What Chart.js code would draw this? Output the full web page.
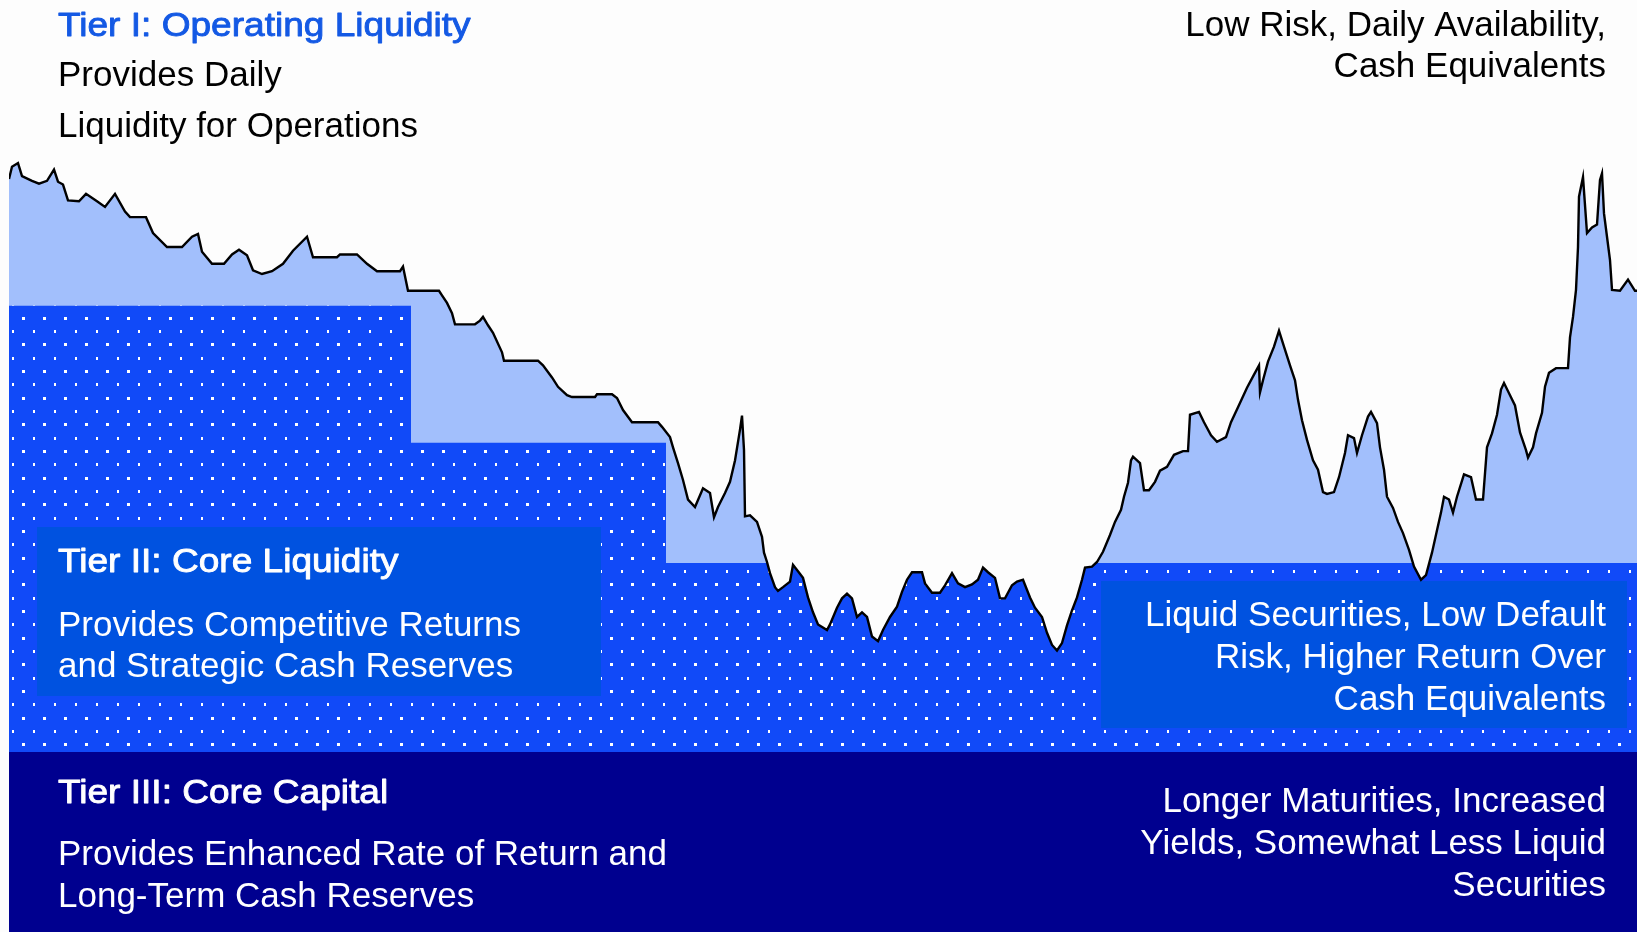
<!DOCTYPE html>
<html>
<head>
<meta charset="utf-8">
<title>Liquidity Tiers</title>
<script src="https://cdn.jsdelivr.net/npm/chart.js@4.4.1/dist/chart.umd.min.js"></script>
<style>
  html, body { margin: 0; padding: 0; background: #fdfdfd; }
  #wrap { position: relative; width: 1637px; height: 932px; }
</style>
</head>
<body>
<div id="wrap"><canvas id="tiersChart"></canvas></div>
<script>
// Cash balance series: day index and balance (relative units, 0-100)
const days = [
  0, 3, 9, 13, 23, 30, 38, 45, 49, 54,
  59, 70, 77, 88, 96, 106, 116, 121, 137, 144,
  158, 173, 183, 189, 193, 203, 215, 223, 230, 238,
  244, 253, 263, 274, 284, 298, 304, 328, 331, 348,
  358, 368, 391, 394, 399, 430, 433, 438, 443, 446,
  466, 471, 474, 479, 484, 493, 495, 529, 534, 543,
  549, 558, 563, 586, 588, 603, 608, 614, 623, 649,
  653, 661, 664, 669, 674, 679, 686, 694, 701, 705,
  709, 716, 721, 726, 731, 733, 735, 736, 741, 748,
  753, 755, 758, 761, 766, 769, 774, 781, 784, 789,
  794, 799, 804, 809, 818, 821, 828, 833, 838, 843,
  848, 853, 858, 863, 869, 874, 881, 888, 893, 898,
  903, 913, 916, 923, 931, 936, 943, 949, 956, 963,
  969, 974, 979, 986, 991, 996, 1003, 1008, 1014, 1021,
  1026, 1033, 1038, 1043, 1048, 1053, 1058, 1063, 1068, 1073,
  1076, 1083, 1088, 1094, 1101, 1106, 1112, 1115, 1119, 1122,
  1124, 1131, 1135, 1140, 1146, 1151, 1158, 1165, 1174, 1179,
  1181, 1190, 1195, 1202, 1208, 1217, 1222, 1229, 1238, 1245,
  1250, 1251, 1254, 1259, 1265, 1270, 1275, 1281, 1286, 1289,
  1293, 1298, 1304, 1309, 1314, 1318, 1325, 1330, 1336, 1339,
  1345, 1348, 1353, 1359, 1362, 1368, 1371, 1375, 1378, 1384,
  1389, 1394, 1400, 1405, 1412, 1417, 1423, 1428, 1432, 1435,
  1440, 1444, 1448, 1455, 1462, 1467, 1474, 1478, 1483, 1488,
  1492, 1495, 1501, 1506, 1511, 1517, 1519, 1524, 1527, 1533,
  1536, 1540, 1547, 1559, 1561, 1564, 1567, 1569, 1570, 1574,
  1578, 1583, 1588, 1591, 1593, 1595, 1598, 1601, 1603, 1611,
  1619, 1626, 1628
];
const balance = [
  80.8, 82.1, 82.5, 81.1, 80.6, 80.3, 80.6, 81.8, 80.5, 80.2,
  78.5, 78.4, 79.2, 78.4, 77.8, 79.2, 77.3, 76.7, 76.7, 75.0,
  73.5, 73.5, 74.6, 74.9, 73.0, 71.7, 71.7, 72.7, 73.2, 72.6,
  71.0, 70.6, 70.9, 71.7, 73.1, 74.6, 72.4, 72.4, 72.7, 72.7,
  71.7, 70.9, 70.9, 71.4, 68.8, 68.8, 68.3, 67.5, 66.4, 65.2,
  65.2, 65.6, 66.0, 65.1, 64.3, 62.2, 61.3, 61.3, 60.8, 59.5,
  58.5, 57.6, 57.4, 57.4, 57.7, 57.7, 57.3, 56.0, 54.7, 54.7,
  54.2, 53.1, 52.0, 50.3, 48.5, 46.4, 45.6, 47.6, 47.1, 44.5,
  45.6, 47.1, 48.3, 50.6, 53.9, 55.4, 51.7, 44.6, 44.7, 44.0,
  42.4, 40.7, 39.7, 38.5, 37.0, 36.6, 37.0, 37.6, 39.4, 38.7,
  38.0, 35.9, 34.3, 33.0, 32.4, 33.0, 34.8, 35.8, 36.3, 35.8,
  33.8, 34.3, 33.8, 31.7, 31.2, 32.4, 33.8, 34.9, 36.5, 37.8,
  38.6, 38.6, 37.4, 36.4, 36.4, 37.2, 38.5, 37.4, 37.0, 37.3,
  37.8, 39.1, 38.6, 38.0, 35.8, 35.8, 37.2, 37.6, 37.8, 35.9,
  34.8, 33.8, 32.1, 30.8, 30.2, 31.0, 32.9, 34.5, 35.9, 37.8,
  39.1, 39.2, 39.7, 40.8, 42.6, 44.0, 45.3, 46.7, 48.2, 50.6,
  51.0, 50.3, 47.4, 47.4, 48.3, 49.5, 49.9, 51.2, 51.6, 51.6,
  55.5, 55.8, 54.7, 53.3, 52.6, 53.1, 54.7, 56.3, 58.4, 59.8,
  60.8, 57.9, 59.2, 61.2, 62.8, 64.5, 62.8, 60.8, 59.2, 57.1,
  54.9, 52.8, 50.6, 49.6, 47.2, 47.0, 47.2, 48.8, 51.4, 53.3,
  53.0, 51.4, 53.3, 55.3, 55.8, 54.6, 52.0, 49.6, 46.7, 45.5,
  44.0, 42.8, 41.0, 39.2, 37.8, 38.3, 40.7, 43.1, 45.0, 46.7,
  46.4, 45.0, 46.7, 49.1, 48.8, 46.4, 46.4, 52.0, 53.5, 55.5,
  58.2, 58.9, 57.6, 56.5, 53.6, 51.7, 50.9, 52.0, 53.5, 55.7,
  58.5, 60.0, 60.5, 60.5, 63.8, 66.0, 68.9, 73.5, 78.9, 81.0,
  75.0, 75.6, 75.9, 80.7, 81.4, 77.1, 74.6, 72.1, 68.9, 68.8,
  70.0, 68.8, 68.8
];

// Tier II (core liquidity) stepped level and Tier III (core capital) level
const tier2Days = [0, 402, 657, 1628];
const tier2Levels = [67.2, 52.5, 39.6, 39.6];
const tier3Days = [0, 1628];
const tier3Levels = [19.3, 19.3];

// Colores
const BG = '#fdfdfd';
const LIGHT_BLUE = '#a2bffc';
const TIER2_BLUE = '#114af8';
const BOX_BLUE = '#0052e0';
const NAVY = '#00008f';

// Patrón de puntos blancos para el Tier II
function makeDotPattern() {
    const c = document.createElement('canvas');
    c.width = 21;
    c.height = 80;
    const p = c.getContext('2d');
    p.fillStyle = TIER2_BLUE;
    p.fillRect(0, 0, 21, 80);
    p.fillStyle = '#ffffff';
    const rows = [11, 24, 38, 51, 64, 78];
    rows.forEach((ry, i) => {
        if (i % 2 === 0) {
            p.fillRect(12, ry - 1, 2, 3);
        } else {
            p.fillRect(1, ry - 1, 3, 3);
        }
    });
    return p.createPattern(c, 'repeat');
}

function toPoints(xs, ys) {
    return xs.map((x, i) => ({ x: x, y: ys[i] }));
}

// Cajas de texto (en unidades de los ejes)
const boxes = [
    { x0: 28, x1: 592, y0: 43.5, y1: 25.3 },
    { x0: 1092, x1: 1618, y0: 37.7, y1: 21.9 }
];

const BODY_FONT = '35px "Liberation Sans", Arial, sans-serif';
const HEAD_FONT = '34px "Liberation Sans", Arial, sans-serif';

const texts = [
    { t: 'Tier I: Operating Liquidity', x: 58, y: 36, align: 'left', color: '#1459e4', head: true },
    { t: 'Provides Daily', x: 58, y: 86, align: 'left', color: '#000' },
    { t: 'Liquidity for Operations', x: 58, y: 137, align: 'left', color: '#000' },
    { t: 'Low Risk, Daily Availability,', x: 1606, y: 36, align: 'right', color: '#000' },
    { t: 'Cash Equivalents', x: 1606, y: 77, align: 'right', color: '#000' },
    { t: 'Tier II: Core Liquidity', x: 58, y: 572, align: 'left', color: '#fff', head: true },
    { t: 'Provides Competitive Returns', x: 58, y: 636, align: 'left', color: '#fff' },
    { t: 'and Strategic Cash Reserves', x: 58, y: 677, align: 'left', color: '#fff' },
    { t: 'Liquid Securities, Low Default', x: 1606, y: 626, align: 'right', color: '#fff' },
    { t: 'Risk, Higher Return Over', x: 1606, y: 668, align: 'right', color: '#fff' },
    { t: 'Cash Equivalents', x: 1606, y: 710, align: 'right', color: '#fff' },
    { t: 'Tier III: Core Capital', x: 58, y: 803, align: 'left', color: '#fff', head: true },
    { t: 'Provides Enhanced Rate of Return and', x: 58, y: 865, align: 'left', color: '#fff' },
    { t: 'Long-Term Cash Reserves', x: 58, y: 907, align: 'left', color: '#fff' },
    { t: 'Longer Maturities, Increased', x: 1606, y: 812, align: 'right', color: '#fff' },
    { t: 'Yields, Somewhat Less Liquid', x: 1606, y: 854, align: 'right', color: '#fff' },
    { t: 'Securities', x: 1606, y: 896, align: 'right', color: '#fff' }
];

// Plugin: cajas antes de dibujar la línea negra, textos al final
const tierPlugin = {
    id: 'tierPlugin',
    beforeDatasetDraw(chart, args) {
        if (args.index !== 2) return;
        const ctx = chart.ctx;
        const xs = chart.scales.x;
        const ys = chart.scales.y;
        ctx.save();
        ctx.fillStyle = BOX_BLUE;
        boxes.forEach((b) => {
            const left = Math.round(xs.getPixelForValue(b.x0));
            const right = Math.round(xs.getPixelForValue(b.x1));
            const top = Math.round(ys.getPixelForValue(b.y0));
            const bottom = Math.round(ys.getPixelForValue(b.y1));
            ctx.fillRect(left, top, right - left, bottom - top);
        });
        ctx.restore();
    },
    afterDraw(chart) {
        const ctx = chart.ctx;
        ctx.save();
        ctx.textBaseline = 'alphabetic';
        texts.forEach((d) => {
            ctx.fillStyle = d.color;
            ctx.textAlign = d.align;
            if (d.head) {
                // títulos: algo más anchos y gruesos
                ctx.save();
                ctx.font = HEAD_FONT;
                ctx.translate(d.x, d.y);
                ctx.scale(1.09, 1);
                ctx.strokeStyle = d.color;
                ctx.lineWidth = 0.9;
                ctx.lineJoin = 'round';
                ctx.fillText(d.t, 0, 0);
                ctx.strokeText(d.t, 0, 0);
                ctx.restore();
            } else {
                ctx.font = BODY_FONT;
                ctx.fillText(d.t, d.x, d.y);
            }
        });
        ctx.restore();
    }
};

window.onload = function() {
    const ctx = document.getElementById('tiersChart').getContext('2d');
    new Chart(ctx, {
        type: 'line',
        data: {
            datasets: [
                {
                    // relleno azul claro bajo el saldo
                    data: toPoints(days, balance),
                    fill: 'origin',
                    backgroundColor: LIGHT_BLUE,
                    borderWidth: 0,
                    pointRadius: 0,
                    order: 4
                },
                {
                    // Tier II escalonado con puntos
                    data: toPoints(tier2Days, tier2Levels),
                    stepped: 'before',
                    fill: 'origin',
                    backgroundColor: makeDotPattern(),
                    borderWidth: 0,
                    pointRadius: 0,
                    order: 3
                },
                {
                    // línea del saldo; lo de arriba se tapa con el fondo
                    data: toPoints(days, balance),
                    fill: 'end',
                    backgroundColor: BG,
                    borderColor: '#000000',
                    borderWidth: 2.4,
                    pointRadius: 0,
                    tension: 0,
                    order: 2
                },
                {
                    // Tier III
                    data: toPoints(tier3Days, tier3Levels),
                    fill: 'origin',
                    backgroundColor: NAVY,
                    borderWidth: 0,
                    pointRadius: 0,
                    order: 1
                }
            ]
        },
        options: {
            responsive: true,
            maintainAspectRatio: false,
            animation: false,
            devicePixelRatio: 1,
            layout: { padding: { left: 9, right: 0, top: 0, bottom: 0 } },
            plugins: {
                legend: { display: false },
                tooltip: { enabled: false }
            },
            scales: {
                x: { type: 'linear', min: 0, max: 1628, display: false },
                y: { min: 0, max: 100, display: false }
            }
        },
        plugins: [tierPlugin]
    });
};
</script>
</body>
</html>
